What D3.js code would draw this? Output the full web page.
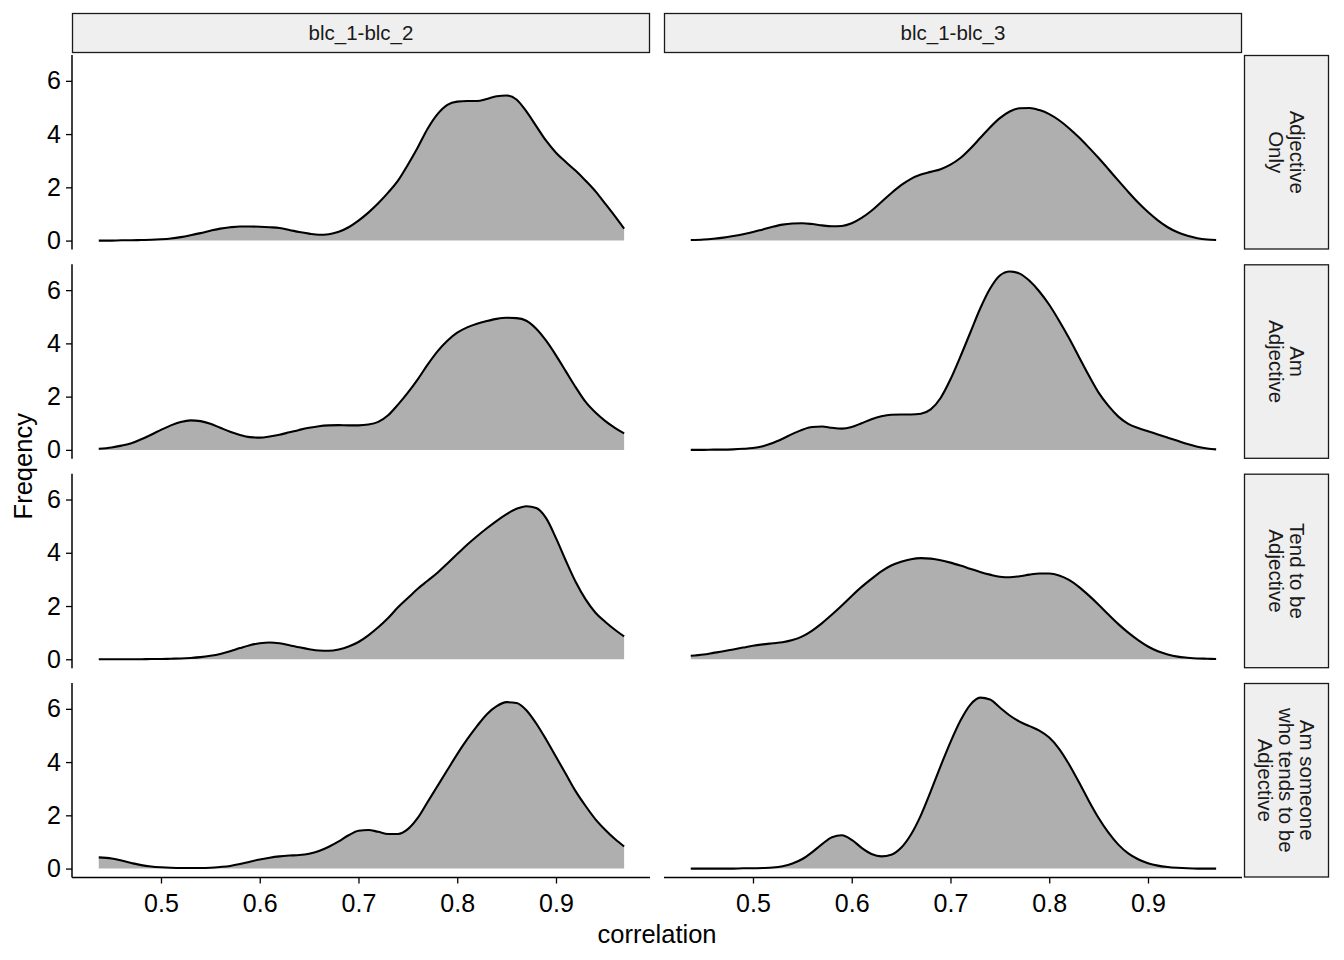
<!DOCTYPE html>
<html>
<head>
<meta charset="utf-8">
<script src="https://cdn.jsdelivr.net/npm/d3@7"></script>
<style>
  html, body { margin: 0; padding: 0; background: #ffffff; }
  svg { display: block; }
  text { font-family: "Liberation Sans", Arial, Helvetica, sans-serif; }
</style>
</head>
<body>
<svg id="chart" width="1344" height="960"></svg>
<script>
// ---------- data ----------
const columns = ["blc_1-blc_2", "blc_1-blc_3"];
const rowLabels = [
  ["Adjective", "Only"],
  ["Am", "Adjective"],
  ["Tend to be", "Adjective"],
  ["Am someone", "who tends to be", "Adjective"]
];
const xTicks = [0.5, 0.6, 0.7, 0.8, 0.9];
const yTicks = [0, 2, 4, 6];

const correlation = [0.437, 0.45, 0.46, 0.47, 0.48, 0.49, 0.50, 0.51, 0.52, 0.53,
  0.54, 0.55, 0.56, 0.57, 0.58, 0.59, 0.60, 0.61, 0.62, 0.63,
  0.64, 0.65, 0.66, 0.67, 0.68, 0.69, 0.70, 0.71, 0.72, 0.73,
  0.74, 0.75, 0.76, 0.77, 0.78, 0.79, 0.80, 0.81, 0.82, 0.83,
  0.84, 0.85, 0.86, 0.87, 0.88, 0.89, 0.90, 0.91, 0.92, 0.93,
  0.94, 0.95, 0.96, 0.969];

// blc_1-blc_2
const adjOnly12 = [0.00, 0.00, 0.01, 0.01, 0.02, 0.03, 0.05, 0.08, 0.13, 0.20,
  0.28, 0.37, 0.45, 0.50, 0.53, 0.53, 0.52, 0.50, 0.47, 0.40,
  0.32, 0.26, 0.22, 0.24, 0.33, 0.50, 0.75, 1.05, 1.40, 1.80,
  2.25, 2.85, 3.50, 4.20, 4.75, 5.10, 5.22, 5.24, 5.24, 5.32,
  5.42, 5.45, 5.30, 4.85, 4.30, 3.75, 3.30, 2.95, 2.62, 2.25,
  1.85, 1.38, 0.90, 0.45];
const amAdj12 = [0.04, 0.09, 0.16, 0.25, 0.40, 0.57, 0.75, 0.92, 1.05, 1.11,
  1.08, 0.98, 0.83, 0.68, 0.56, 0.48, 0.46, 0.50, 0.57, 0.66,
  0.75, 0.83, 0.89, 0.92, 0.93, 0.92, 0.92, 0.95, 1.05, 1.30,
  1.70, 2.15, 2.65, 3.20, 3.70, 4.10, 4.40, 4.60, 4.74, 4.84,
  4.92, 4.96, 4.95, 4.85, 4.55, 4.10, 3.55, 2.95, 2.35, 1.80,
  1.40, 1.08, 0.82, 0.62];
const tendAdj12 = [0.00, 0.00, 0.00, 0.00, 0.00, 0.01, 0.01, 0.02, 0.03, 0.05,
  0.08, 0.13, 0.20, 0.30, 0.42, 0.53, 0.60, 0.63, 0.60, 0.53,
  0.45, 0.38, 0.33, 0.32, 0.37, 0.48, 0.65, 0.90, 1.20, 1.55,
  1.95, 2.30, 2.65, 2.95, 3.25, 3.60, 3.95, 4.30, 4.62, 4.92,
  5.20, 5.45, 5.65, 5.75, 5.68, 5.30, 4.55, 3.70, 2.90, 2.25,
  1.75, 1.40, 1.10, 0.86];
const someoneAdj12 = [0.42, 0.38, 0.30, 0.21, 0.13, 0.08, 0.05, 0.03, 0.02, 0.02,
  0.02, 0.03, 0.06, 0.10, 0.17, 0.26, 0.34, 0.41, 0.46, 0.49,
  0.51, 0.56, 0.66, 0.82, 1.02, 1.25, 1.42, 1.45, 1.38, 1.30,
  1.30, 1.48, 1.90, 2.50, 3.10, 3.70, 4.30, 4.85, 5.35, 5.80,
  6.10, 6.25, 6.22, 5.95, 5.45, 4.85, 4.20, 3.55, 2.90, 2.35,
  1.85, 1.45, 1.10, 0.83];

// blc_1-blc_3
const adjOnly13 = [0.02, 0.04, 0.07, 0.11, 0.17, 0.24, 0.32, 0.42, 0.52, 0.60,
  0.64, 0.65, 0.62, 0.57, 0.54, 0.55, 0.65, 0.85, 1.12, 1.45,
  1.78, 2.08, 2.32, 2.48, 2.58, 2.68, 2.85, 3.10, 3.45, 3.85,
  4.25, 4.60, 4.85, 4.97, 4.98, 4.90, 4.75, 4.52, 4.22, 3.88,
  3.50, 3.10, 2.68, 2.25, 1.83, 1.43, 1.07, 0.76, 0.50, 0.31,
  0.18, 0.09, 0.04, 0.02];
const amAdj13 = [0.00, 0.00, 0.01, 0.01, 0.02, 0.04, 0.07, 0.14, 0.26, 0.42,
  0.60, 0.76, 0.86, 0.88, 0.83, 0.80, 0.86, 1.00, 1.15, 1.26,
  1.32, 1.33, 1.33, 1.36, 1.52, 1.95, 2.65, 3.50, 4.40, 5.30,
  6.05, 6.55, 6.70, 6.62, 6.35, 5.95, 5.45, 4.85, 4.20, 3.50,
  2.80, 2.15, 1.65, 1.25, 0.98, 0.82, 0.70, 0.58, 0.46, 0.34,
  0.22, 0.12, 0.05, 0.02];
const tendAdj13 = [0.13, 0.18, 0.24, 0.30, 0.37, 0.44, 0.51, 0.56, 0.60, 0.64,
  0.72, 0.86, 1.08, 1.36, 1.68, 2.02, 2.38, 2.72, 3.02, 3.30,
  3.52, 3.66, 3.76, 3.80, 3.78, 3.72, 3.63, 3.52, 3.40, 3.28,
  3.18, 3.10, 3.08, 3.12, 3.18, 3.22, 3.22, 3.15, 2.98, 2.72,
  2.40, 2.05, 1.68, 1.32, 1.00, 0.72, 0.48, 0.30, 0.18, 0.10,
  0.06, 0.03, 0.02, 0.01];
const someoneAdj13 = [0.00, 0.00, 0.00, 0.00, 0.00, 0.01, 0.01, 0.02, 0.04, 0.09,
  0.19, 0.36, 0.62, 0.92, 1.18, 1.25, 1.08, 0.78, 0.55, 0.46,
  0.52, 0.78, 1.28, 2.00, 2.90, 3.85, 4.75, 5.55, 6.15, 6.42,
  6.35, 6.05, 5.75, 5.52, 5.35, 5.18, 4.92, 4.50, 3.92, 3.25,
  2.55, 1.90, 1.35, 0.90, 0.57, 0.35, 0.20, 0.11, 0.06, 0.03,
  0.01, 0.00, 0.00, 0.00];

const panels = [
  [adjOnly12, adjOnly13],
  [amAdj12, amAdj13],
  [tendAdj12, tendAdj13],
  [someoneAdj12, someoneAdj13]
];

// ---------- layout ----------
const svg = d3.select("#chart");
const FONT = '"Liberation Sans", Arial, Helvetica, sans-serif';
const panelX = [72, 664];
const panelW = 578;
const rowTop = [55, 264.3, 473.7, 683];
const panelH = 194.5;
const stripTopY = 13, stripTopH = 40;
const stripRightX = 1244, stripRightW = 85;
const tickFont = 25, titleFont = 25.5, stripFont = 20.5;

const x = d3.scaleLinear().domain([0.4099, 0.9952]).range([0, panelW]);
const y = d3.scaleLinear().domain([-0.335, 6.97]).range([panelH, 0]);

const area = d3.area()
  .x((d, i) => x(correlation[i]))
  .y0(y(0))
  .y1(d => y(d))
  .curve(d3.curveMonotoneX);
const line = d3.line()
  .x((d, i) => x(correlation[i]))
  .y(d => y(d))
  .curve(d3.curveMonotoneX);

// top strips
columns.forEach((c, ci) => {
  const g = svg.append("g").attr("transform", `translate(${panelX[ci]},${stripTopY})`);
  g.append("rect").attr("x", 0.5).attr("y", 0.5).attr("width", panelW - 1).attr("height", stripTopH - 1)
    .attr("fill", "#efefef").attr("stroke", "#1a1a1a").attr("stroke-width", 1.3);
  g.append("text").attr("x", panelW / 2).attr("y", stripTopH / 2).attr("dy", "0.35em")
    .attr("text-anchor", "middle").attr("font-size", stripFont).attr("fill", "#1a1a1a").text(c);
});

// right strips
rowLabels.forEach((lab, ri) => {
  const g = svg.append("g").attr("transform", `translate(${stripRightX},${rowTop[ri]})`);
  g.append("rect").attr("x", 0.5).attr("y", 0.5).attr("width", stripRightW - 1).attr("height", panelH - 1)
    .attr("fill", "#efefef").attr("stroke", "#1a1a1a").attr("stroke-width", 1.3);
  const lh = 21;
  const n = lab.length;
  const cx = stripRightW / 2, cy = panelH / 2;
  const t = g.append("text")
    .attr("transform", `translate(${cx},${cy}) rotate(90)`)
    .attr("text-anchor", "middle").attr("font-size", stripFont).attr("fill", "#1a1a1a");
  lab.forEach((s, k) => {
    t.append("tspan").attr("x", 0).attr("y", (k - (n - 1) / 2) * lh).attr("dy", "0.35em").text(s);
  });
});

// panels
panels.forEach((row, ri) => {
  row.forEach((vals, ci) => {
    const g = svg.append("g").attr("transform", `translate(${panelX[ci]},${rowTop[ri]})`);
    g.append("path").datum(vals).attr("d", area).attr("fill", "#afafaf");
    g.append("path").datum(vals).attr("d", line).attr("fill", "none")
      .attr("stroke", "#000").attr("stroke-width", 2.1).attr("stroke-linejoin", "round");

    if (ci === 0) {
      const ax = g.append("g").call(d3.axisLeft(y).tickValues(yTicks).tickFormat(d3.format("d")).tickSize(6).tickPadding(5));
      ax.select(".domain").attr("d", `M0,0V${panelH}`).attr("stroke", "#000").attr("stroke-width", 1.5);
      ax.selectAll(".tick line").attr("stroke", "#000").attr("stroke-width", 1.3);
      ax.selectAll(".tick text").attr("font-size", tickFont).attr("fill", "#000").style("font-family", FONT);
    }
    if (ri === panels.length - 1) {
      const ax = g.append("g").attr("transform", `translate(0,${panelH})`)
        .call(d3.axisBottom(x).tickValues(xTicks).tickFormat(d3.format(".1f")).tickSize(6).tickPadding(11));
      ax.select(".domain").attr("d", `M0,0H${panelW}`).attr("stroke", "#000").attr("stroke-width", 1.5);
      ax.selectAll(".tick line").attr("stroke", "#000").attr("stroke-width", 1.3);
      ax.selectAll(".tick text").attr("font-size", tickFont).attr("fill", "#000").style("font-family", FONT);
    }
  });
});

// axis titles
svg.append("text").attr("x", (panelX[0] + panelX[1] + panelW) / 2).attr("y", 943)
  .attr("text-anchor", "middle").attr("font-size", titleFont).attr("fill", "#000").text("correlation");
svg.append("text").attr("transform", `translate(32,${(rowTop[0] + rowTop[3] + panelH) / 2}) rotate(-90)`)
  .attr("text-anchor", "middle").attr("font-size", titleFont).attr("fill", "#000").text("Freqency");
</script>
</body>
</html>
